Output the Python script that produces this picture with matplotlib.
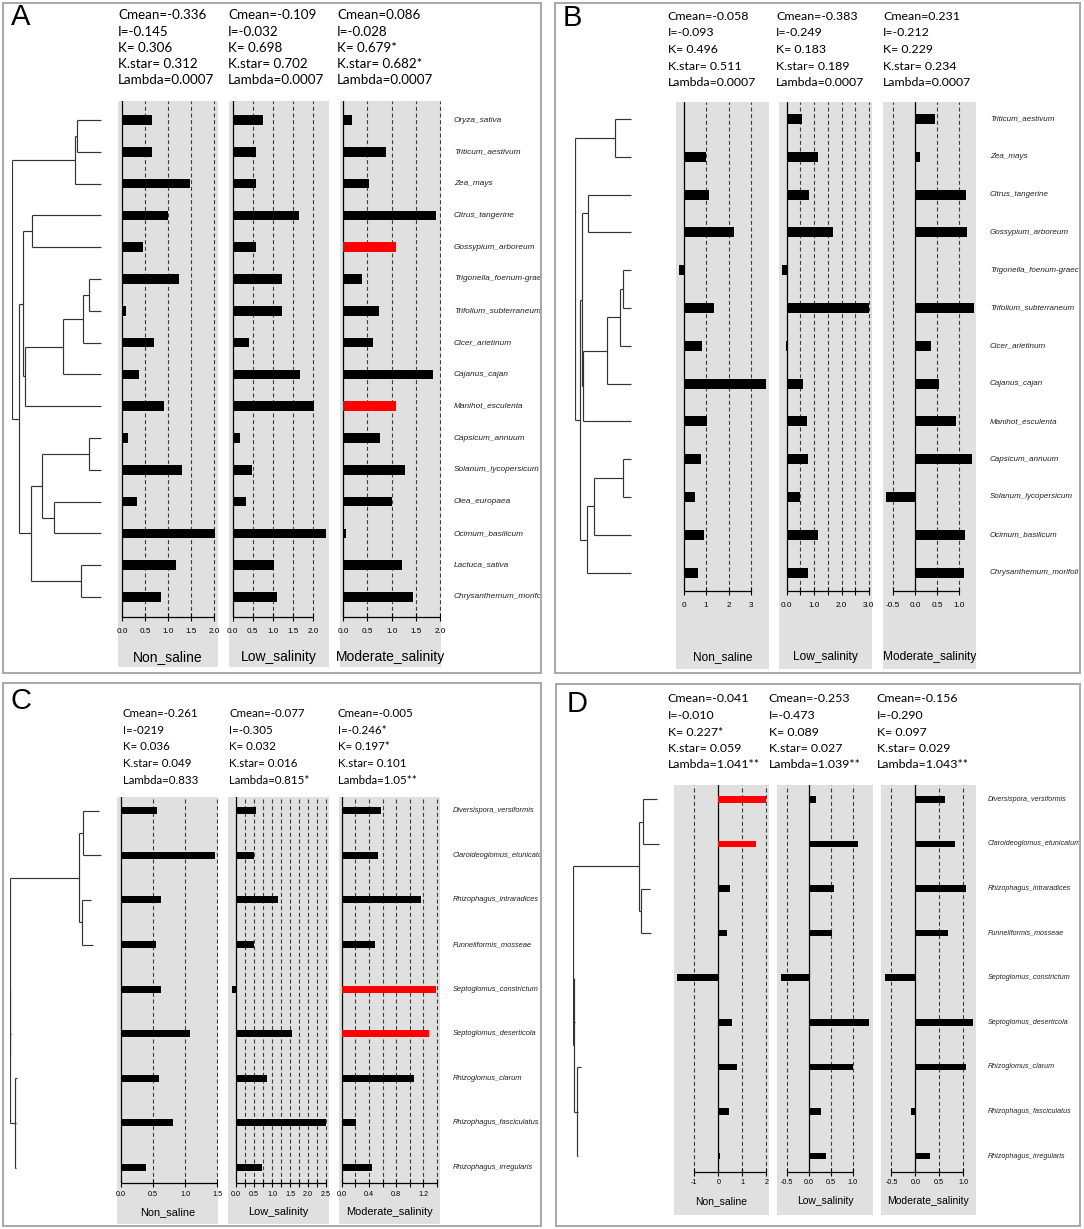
import matplotlib
matplotlib.use("Agg")
import matplotlib.pyplot as plt
from matplotlib.patches import Rectangle
from matplotlib.transforms import Bbox, TransformedBbox, blended_transform_factory

W, H = 1084, 1229
fig = plt.figure(figsize=(W / 100, H / 100), dpi=100)

conditions = ["Non_saline", "Low_salinity", "Moderate_salinity"]

# ---------------- Panel A data ----------------
species_A = ["Oryza_sativa", "Triticum_aestivum", "Zea_mays", "Citrus_tangerine",
             "Gossypium_arboreum", "Trigonella_foenum-graec", "Trifolium_subterraneum",
             "Cicer_arietinum", "Cajanus_cajan", "Manihot_esculenta", "Capsicum_annuum",
             "Solanum_lycopersicum", "Olea_europaea", "Ocimum_basilicum", "Lactuca_sativa",
             "Chrysanthemum_morifoli"]
nonsaline_A = [0.64, 0.66, 1.47, 0.99, 0.45, 1.23, 0.08, 0.70, 0.37, 0.90, 0.12, 1.29, 0.32, 2.01, 1.16, 0.85]
low_A = [0.74, 0.59, 0.59, 1.65, 0.59, 1.23, 1.22, 0.40, 1.66, 2.02, 0.18, 0.48, 0.33, 2.31, 1.03, 1.09]
moderate_A = [0.17, 0.88, 0.54, 1.92, 1.10, 0.39, 0.74, 0.62, 1.85, 1.10, 0.76, 1.28, 1.00, 0.06, 1.21, 1.45]
red_A = [[], [], [4, 9]]
stats_A = [["Cmean=-0.336", "I=-0.145", "K= 0.306", "K.star= 0.312", "Lambda=0.0007"],
           ["Cmean=-0.109", "I=-0.032", "K= 0.698", "K.star= 0.702", "Lambda=0.0007"],
           ["Cmean=0.086", "I=-0.028", "K= 0.679*", "K.star= 0.682*", "Lambda=0.0007"]]
# tree: [node_height, children...]; leaf = species index (tip at tip height) or (index, tip height)
tree_A = [0,
          [63.0, [65.6, 0, 1], 2],
          [7.3,
           [11.0, [20.6, 3, 4],
            [13.3, [51.0, [71.6, [77.6, 5, 6], 7], 8], 9]],
           [19.0, [30.0, [77.0, 10, 11], [42.3, 12, 13]],
            [69.0, 14, 15]]]]
tip_A = 89.0

# ---------------- Panel B data ----------------
species_B = ["Triticum_aestivum", "Zea_mays", "Citrus_tangerine", "Gossypium_arboreum",
             "Trigonella_foenum-graec", "Trifolium_subterraneum", "Cicer_arietinum",
             "Cajanus_cajan", "Manihot_esculenta", "Capsicum_annuum", "Solanum_lycopersicum",
             "Ocimum_basilicum", "Chrysanthemum_morifoli"]
nonsaline_B = [0.06, 1.00, 1.11, 2.23, -0.22, 1.34, 0.83, 3.65, 1.02, 0.76, 0.52, 0.89, 0.64]
low_B = [0.57, 1.15, 0.81, 1.70, -0.17, 3.01, -0.04, 0.60, 0.74, 0.79, 0.47, 1.13, 0.79]
moderate_B = [0.45, 0.11, 1.15, 1.19, 0.01, 1.33, 0.36, 0.55, 0.93, 1.29, -0.66, 1.13, 1.11]
red_B = [[], [], []]
stats_B = [["Cmean=-0.058", "I=-0.093", "K= 0.496", "K.star= 0.511", "Lambda=0.0007"],
           ["Cmean=-0.383", "I=-0.249", "K= 0.183", "K.star= 0.189", "Lambda=0.0007"],
           ["Cmean=0.231", "I=-0.212", "K= 0.229", "K.star= 0.234", "Lambda=0.0007"]]
tree_B = [0,
          [39.7, 0, 1],
          [5.0,
           [6.7, [13.3, 2, 3],
            [7.7, [32.0, [45.0, [48.3, 4, 5], 6], 7], 8]],
           [11.7, [19.3, [48.3, 9, 10], 11], 12]]]
tip_B = 55.7

# ---------------- Panel C data ----------------
species_C = ["Diversispora_versiformis", "Claroideoglomus_etunicatum", "Rhizophagus_intraradices",
             "Funneliformis_mosseae", "Septoglomus_constrictum", "Septoglomus_deserticola",
             "Rhizoglomus_clarum", "Rhizophagus_fasciculatus", "Rhizophagus_irregularis"]
nonsaline_C = [0.56, 1.46, 0.63, 0.55, 0.62, 1.08, 0.60, 0.81, 0.39]
low_C = [0.56, 0.51, 1.18, 0.51, -0.12, 1.55, 0.87, 2.50, 0.73]
moderate_C = [0.58, 0.54, 1.16, 0.49, 1.39, 1.29, 1.07, 0.21, 0.45]
red_C = [[], [], [4, 5]]
stats_C = [["Cmean=-0.261", "I=-0219", "K= 0.036", "K.star= 0.049", "Lambda=0.833"],
           ["Cmean=-0.077", "I=-0.305", "K= 0.032", "K.star= 0.016", "Lambda=0.815*"],
           ["Cmean=-0.005", "I=-0.246*", "K= 0.197*", "K.star= 0.101", "Lambda=1.05**"]]
tree_C = [0,
          [69.6, [73.6, (0, 89.0), (1, 91.0)], [72.3, (2, 81.3), (3, 83.3)]],
          [0.4, (4, 0.8), (5, 1.2), [5.3, (6, 7.0), (7, 6.0), (8, 6.0)]]]
tip_C = 89.0

# ---------------- Panel D data ----------------
species_D = list(species_C)
nonsaline_D = [2.00, 1.56, 0.49, 0.35, -1.71, 0.57, 0.79, 0.44, 0.08]
low_D = [0.16, 1.13, 0.57, 0.53, -0.65, 1.38, 1.00, 0.27, 0.40]
moderate_D = [0.62, 0.83, 1.06, 0.69, -0.64, 1.21, 1.06, -0.08, 0.31]
red_D = [[0, 1], [], []]
stats_D = [["Cmean=-0.041", "I=-0.010", "K= 0.227*", "K.star= 0.059", "Lambda=1.041**"],
           ["Cmean=-0.253", "I=-0.473", "K= 0.089", "K.star= 0.027", "Lambda=1.039**"],
           ["Cmean=-0.156", "I=-0.290", "K= 0.097", "K.star= 0.029", "Lambda=1.043**"]]
tree_D = [0,
          [65.7, [69.4, (0, 83.4), (1, 85.7)], [67.7, (2, 76.7), (3, 78.0)]],
          [0.7, (4, 1.0), (5, 1.5), [4.0, (6, 7.3), (7, 5.0), (8, 5.0)]]]
tip_D = 83.4


def steps(a, b, s):
    out = []
    v = a
    while v <= b + 1e-9:
        out.append(round(v, 4))
        v += s
    return out


# ---------------- Layout (pixels) ----------------
layouts = {
    "A": dict(letter="A", box=(3, 3, 541, 673), letter_xy=(21, 17),
              stats_x=[118, 228, 337], stats_y=[15, 31.7, 48.3, 64.3, 80], stats_fs=9.6,
              gray=[(118, 218), (229, 329), (340, 441)], gray_top=101, gray_bot=667,
              axis_y=617, cat_y=657, cat_fs=10, tick_fs=5.9, tick_pad=5.0,
              row0=120, dy=31.8, bar_h=9.5,
              zero=[122, 232.7, 343.3], unit=[46.15, 40.3, 48.35],
              ticks=[steps(0, 2, 0.5)] * 3, labeled=[steps(0, 2, 0.5)] * 3,
              fmt=["{:.1f}"] * 3, grid=[steps(0.5, 2, 0.5)] * 3,
              sp_x=454, sp_fs=5.95, tree_root=11.7),
    "B": dict(letter="B", box=(555, 3, 1080, 673), letter_xy=(572, 18),
              stats_x=[667.7, 776, 883], stats_y=[16, 32.7, 49.3, 66, 82.3], stats_fs=8.9,
              gray=[(675.7, 769), (779, 872.3), (882.7, 976)], gray_top=101.7, gray_bot=669,
              axis_y=591, cat_y=657, cat_fs=8.6, tick_fs=5.9, tick_pad=5.5,
              row0=119, dy=37.8, bar_h=10,
              zero=[683.7, 786.7, 915], unit=[22.45, 27.4, 44],
              ticks=[steps(0, 3, 1), steps(0, 3, 0.5), steps(-0.5, 1, 0.5)],
              labeled=[steps(0, 3, 1), steps(0, 3, 1), steps(-0.5, 1, 0.5)],
              fmt=["{:.0f}", "{:.1f}", "{:.1f}"],
              grid=[steps(1, 3, 1), steps(0.5, 3, 0.5), [-0.5, 0.5, 1.0]],
              sp_x=990, sp_fs=5.8, tree_root=575),
    "C": dict(letter="C", box=(3, 683, 541, 1226), letter_xy=(21, 701),
              stats_x=[122.7, 229.3, 337.7], stats_y=[713.3, 730, 746.7, 763.3, 780], stats_fs=8.3,
              gray=[(117.3, 218.3), (228, 328.7), (338.7, 440)], gray_top=796.7, gray_bot=1224,
              axis_y=1183.3, cat_y=1212, cat_fs=7.9, tick_fs=5.2, tick_pad=2.6,
              row0=810.7, dy=44.6, bar_h=7,
              zero=[120.7, 236, 341.7], unit=[64.4, 36, 68],
              ticks=[steps(0, 1.5, 0.5), steps(0, 2.5, 0.25), steps(0, 1.4, 0.2)],
              labeled=[steps(0, 1.5, 0.5), steps(0, 2.5, 0.5), steps(0, 1.2, 0.4)],
              fmt=["{:.1f}"] * 3,
              grid=[steps(0.5, 1.5, 0.5), steps(0.25, 2.5, 0.25), steps(0.2, 1.4, 0.2)],
              sp_x=452.3, sp_fs=5.4, tree_root=9.7),
    "D": dict(letter="D", box=(556, 684, 1080, 1226), letter_xy=(577, 704),
              stats_x=[667.7, 768.7, 876.7], stats_y=[699, 715.7, 732.3, 749, 765], stats_fs=8.9,
              gray=[(674, 769), (777.3, 872.7), (881, 976)], gray_top=785, gray_bot=1215,
              axis_y=1171.7, cat_y=1201, cat_fs=7.5, tick_fs=5.2, tick_pad=2.8,
              row0=799.3, dy=44.6, bar_h=6.7,
              zero=[718.3, 809, 915.3], unit=[24, 43.7, 47.7],
              ticks=[steps(-1, 2, 1), steps(-0.5, 1, 0.5), steps(-0.5, 1, 0.5)],
              labeled=[steps(-1, 2, 1), steps(-0.5, 1, 0.5), steps(-0.5, 1, 0.5)],
              fmt=["{:.0f}", "{:.1f}", "{:.1f}"],
              grid=[[-1, 1, 2], [-0.5, 0.5, 1.0], [-0.5, 0.5, 1.0]],
              sp_x=987.7, sp_fs=5.1, tree_root=573.3),
}

panels = {
    "A": (species_A, [nonsaline_A, low_A, moderate_A], red_A, stats_A, tree_A, tip_A),
    "B": (species_B, [nonsaline_B, low_B, moderate_B], red_B, stats_B, tree_B, tip_B),
    "C": (species_C, [nonsaline_C, low_C, moderate_C], red_C, stats_C, tree_C, tip_C),
    "D": (species_D, [nonsaline_D, low_D, moderate_D], red_D, stats_D, tree_D, tip_D),
}

GRAY = "#e0e0e0"
TREE_COL = "#333333"
DASH = (0, (3.6, 2.4))


def fx(x):
    return x / W


def fy(y):
    return 1 - y / H


def px_axes(x0, y0, x1, y1):
    return fig.add_axes([fx(x0), fy(y1), (x1 - x0) / W, (y1 - y0) / H])


def draw_tree(ax, node, tip_h):
    if isinstance(node, int):
        return float(node), tip_h
    if isinstance(node, tuple):
        return float(node[0]), node[1]
    h = node[0]
    pts = [draw_tree(ax, k, tip_h) for k in node[1:]]
    for cy, cx in pts:
        ax.plot([h, cx], [cy, cy], color=TREE_COL, lw=0.85, solid_capstyle="butt")
    ax.plot([h, h], [pts[0][0], pts[-1][0]], color=TREE_COL, lw=0.85, solid_capstyle="butt")
    return (pts[0][0] + pts[-1][0]) / 2, h


for key in ["A", "B", "C", "D"]:
    L = layouts[key]
    species, series, reds, stats, tree, tip_h = panels[key]
    n = len(species)
    bx0, by0, bx1, by1 = L["box"]
    # panel frame
    fig.add_artist(Rectangle((fx(bx0), fy(by1)), (bx1 - bx0) / W, (by1 - by0) / H,
                             transform=fig.transFigure, fill=False, edgecolor="#a8a8a8", lw=1.4))
    fig.text(fx(L["letter_xy"][0]), fy(L["letter_xy"][1]), L["letter"], fontsize=21,
             family="Liberation Sans", ha="center", va="center")
    # statistics text
    for c in range(3):
        for r, s in enumerate(stats[c]):
            fig.text(fx(L["stats_x"][c]), fy(L["stats_y"][r]), s, fontsize=L["stats_fs"],
                     family="Lato", ha="left", va="center")
    y_top = (L["gray_top"] - L["row0"]) / L["dy"]
    y_bot = (L["axis_y"] - L["row0"]) / L["dy"]
    bar_h = L["bar_h"] / L["dy"]
    last_ax = None
    for c in range(3):
        gl, gr = L["gray"][c]
        fig.add_artist(Rectangle((fx(gl), fy(L["gray_bot"])), (gr - gl) / W,
                                 (L["gray_bot"] - L["gray_top"]) / H, transform=fig.transFigure,
                                 facecolor=GRAY, edgecolor="none", zorder=-1))
        ax = px_axes(gl, L["gray_top"], gr, L["axis_y"])
        ax.set_facecolor("none")
        z, u = L["zero"][c], L["unit"][c]
        ax.set_xlim((gl - z) / u, (gr - z) / u)
        ax.set_ylim(y_bot, y_top)
        for g in L["grid"][c]:
            ax.axvline(g, color="#3c3c3c", lw=0.8, ls=DASH, zorder=1)
        ax.axvline(0, color="black", lw=0.9, zorder=1)
        cols = ["#ff0000" if i in reds[c] else "black" for i in range(n)]
        ax.barh(range(n), series[c], height=bar_h, color=cols, edgecolor="none", zorder=2)
        for s in ax.spines.values():
            s.set_visible(False)
        tk = L["ticks"][c]
        ax.plot([tk[0], tk[-1]], [y_bot, y_bot], color="black", lw=0.9, clip_on=False,
                solid_capstyle="butt")
        ax.set_xticks(L["labeled"][c], [L["fmt"][c].format(v) for v in L["labeled"][c]])
        ax.set_xticks([v for v in tk if v not in L["labeled"][c]], minor=True)
        ax.tick_params(axis="x", which="both", direction="inout", length=5.5, width=0.8,
                       pad=L["tick_pad"], labelsize=L["tick_fs"])
        for lab in ax.get_xticklabels():
            lab.set_family("Liberation Sans")
        ax.set_yticks([])
        fig.text(fx((gl + gr) / 2), fy(L["cat_y"]), conditions[c], fontsize=L["cat_fs"],
                 family="Liberation Sans", ha="center", va="center")
        last_ax = ax
    # species labels
    clip = TransformedBbox(Bbox.from_extents(fx(bx0), fy(by1), fx(bx1 - 1), fy(by0)), fig.transFigure)
    tr = blended_transform_factory(fig.transFigure, last_ax.transData)
    for i, name in enumerate(species):
        t = fig.text(fx(L["sp_x"]), i, name, transform=tr, fontsize=L["sp_fs"], style="italic",
                     family="Liberation Sans", ha="left", va="center", color="#222222")
        t.set_clip_box(clip)
        t.set_clip_on(True)
    # tree
    tax = px_axes(L["tree_root"], L["gray_top"], L["tree_root"] + 100, L["axis_y"])
    tax.set_xlim(0, 100)
    tax.set_ylim(y_bot, y_top)
    tax.axis("off")
    draw_tree(tax, tree, tip_h)

fig.savefig("out.png", dpi=100)
